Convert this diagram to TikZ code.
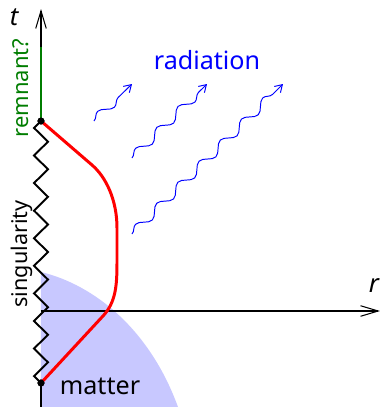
\documentclass[tikz,border=0pt]{standalone}
\usepackage{fontspec}
\setmainfont{Noto Sans}[Ligatures=NoCommon]
\usetikzlibrary{arrows.meta,decorations.pathmorphing}
\definecolor{matterblue}{RGB}{200,200,255}
\definecolor{remgreen}{RGB}{0,125,0}
\tikzset{
  axisline/.style={line width=0.6pt},
  axisarrow/.style={axisline,-{Straight Barb[length=10pt,width=6pt]}},
  wave/.style={blue,line width=0.55pt,decorate,
    decoration={snake,segment length=17pt,amplitude=2.5pt,post length=3pt},
    -{Straight Barb[length=4pt,width=5pt]}},
  dotnode/.style={circle,fill=black,inner sep=0pt,minimum size=4pt},
  lbl/.style={font=\fontsize{14.3}{17}\selectfont},
  sidelbl/.style={rotate=90,anchor=base},
  axlbl/.style={font=\fontsize{14.5}{17}\selectfont\itshape},
}
\begin{document}
\begin{tikzpicture}[x=0.02cm,y=-0.02cm]
\useasboundingbox (0,0) rectangle (381,407);
% matter region
\fill[matterblue] (41,272) .. controls (95,285) and (150,330) .. (178,407) -- (41,407) -- cycle;
% nodes
\node[dotnode] (top) at (41,121) {};
\node[dotnode] (bot) at (41,383) {};
% axes
\coordinate (tb) at (41,407);
\coordinate (tt) at (41,9);
\coordinate (ro) at (41,311);
\coordinate (re) at (380,311);
\draw[axisline] (tb) -- (bot.center);
\draw[axisarrow] (top.center) -- (tt);
\draw[axisarrow] (ro) -- (re);
\node[axlbl] (tlab) at (14,17) {t};
\node[axlbl] (rlab) at (374,286) {r};
% remnant
\coordinate (gtop) at (41,47);
\draw[remgreen,line width=1.7pt] (gtop) -- (top.center);
% singularity zigzag
\draw[line width=1.1pt,line join=miter] (top.center)
  \foreach \k in {0,...,8} { -- (34,{127.9+27.58*\k}) -- (48,{141.7+27.58*\k}) }
  -- (34,{127.9+27.58*9}) -- (bot.center);
% red worldline
\draw[red,line width=1.7pt] (top.center) -- (92,165) .. controls (106,177) and (117,200) .. (117,228)
  -- (117,262) .. controls (117,285) and (116,302) .. (103,316) -- (bot.center);
% redraw dots on top
\node[dotnode] at (top) {};
\node[dotnode] at (bot) {};
% labels
\node[sidelbl,remgreen,font=\fontsize{12.5}{15}\selectfont] (remlab) at (28.5,88) {remnant?};
\node[sidelbl,font=\fontsize{12.3}{15}\selectfont] (singlab) at (27.5,254) {singularity};
\node[lbl,blue] (radlab) at (207,60) {radiation};
\node[lbl] (matlab) at (100,386) {matter};
% radiation waves
\coordinate (w1s) at (94,121); \coordinate (w1e) at (132,84);
\coordinate (w2s) at (132,158); \coordinate (w2e) at (207,84);
\coordinate (w3s) at (132,234); \coordinate (w3e) at (283,84);
\draw[wave] (w1s) -- (w1e);
\draw[wave] (w2s) -- (w2e);
\draw[wave] (w3s) -- (w3e);
\end{tikzpicture}
\end{document}
